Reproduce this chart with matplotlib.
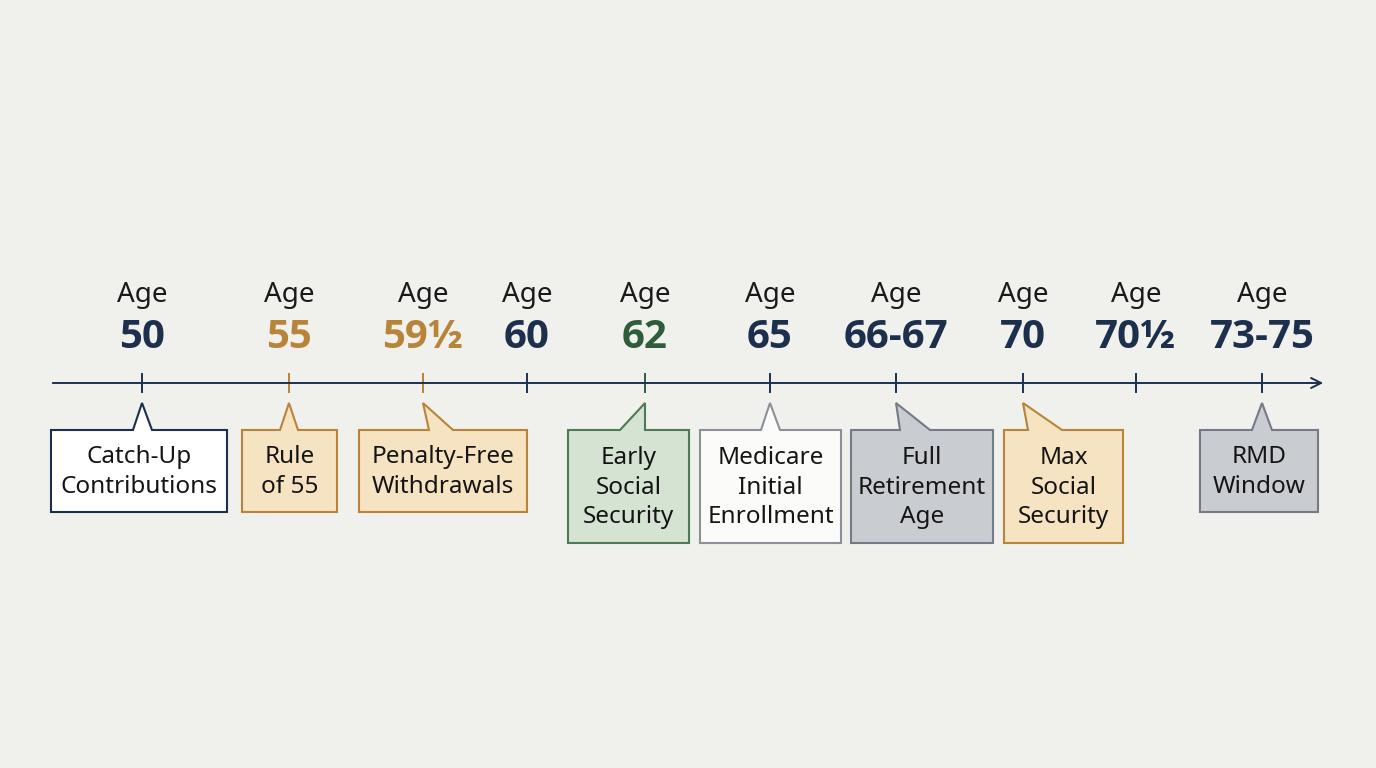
import matplotlib.pyplot as plt
from matplotlib.patches import Polygon

NAVY = '#1c2f4d'
ORANGE = '#b8843a'
GREEN = '#2f5d3a'

ages = ['50', '55', '59½', '60', '62', '65', '66-67', '70', '70½', '73-75']
age_colors = [NAVY, ORANGE, ORANGE, NAVY, GREEN, NAVY, NAVY, NAVY, NAVY, NAVY]
tick_x = [142, 289, 423, 527, 645, 770, 896, 1023, 1136, 1262]

# callouts: text, tick index, box left, box right, box bottom, pointer base (x0, x1), fill, edge
labels = ['Catch-Up\nContributions', 'Rule\nof 55', 'Penalty-Free\nWithdrawals',
          'Early\nSocial\nSecurity', 'Medicare\nInitial\nEnrollment', 'Full\nRetirement\nAge',
          'Max\nSocial\nSecurity', 'RMD\nWindow']
label_tick = [0, 1, 2, 4, 5, 6, 7, 9]
box_left = [51, 242, 359, 568, 700, 851, 1004, 1200]
box_right = [227, 337, 527, 689, 841, 993, 1123, 1318]
box_bottom = [512, 512, 512, 543, 543, 543, 543, 512]
ptr_base = [(133, 152), (280, 298), (429, 453), (620, 645), (761, 780), (900, 930), (1028, 1062), (1252, 1272)]
fills = ['#ffffff', '#f5e3c2', '#f5e3c2', '#d5e3d3', '#fbfbfa', '#c9ccd1', '#f5e3c2', '#c9ccd1']
edges = [NAVY, ORANGE, ORANGE, '#4d7a57', '#8b9099', '#747b86', ORANGE, '#747b86']

fig = plt.figure(figsize=(13.76, 7.68), dpi=100)
fig.patch.set_facecolor('#f0f0ec')
ax = fig.add_axes([0, 0, 1, 1])
ax.set_xlim(0, 1376)
ax.set_ylim(768, 0)
ax.axis('off')

line_y = 383
ax.annotate('', xy=(1326, line_y), xytext=(50, line_y),
            arrowprops=dict(arrowstyle='->', color=NAVY, lw=1.4, mutation_scale=18))

for x, age, c in zip(tick_x, ages, age_colors):
    ax.plot([x, x], [line_y - 9, line_y + 9], color=c, lw=1.4)
    ax.text(x, 295, 'Age', ha='center', va='center', fontsize=20, color='#1a1a1a', family='Noto Sans')
    ax.text(x, 338, age, ha='center', va='center', fontsize=29, color=c,
            fontweight='bold', family=['Open Sans', 'DejaVu Sans'])

top = 430
apex_y = 403
for txt, ti, l, r, b, (p0, p1), fc, ec in zip(labels, label_tick, box_left, box_right,
                                              box_bottom, ptr_base, fills, edges):
    ax_x = tick_x[ti]
    pts = [(l, top), (p0, top), (ax_x, apex_y), (p1, top), (r, top), (r, b), (l, b)]
    ax.add_patch(Polygon(pts, closed=True, facecolor=fc, edgecolor=ec, lw=1.5))
    ax.text((l + r) / 2, (top + b) / 2 + 1, txt, ha='center', va='center', fontsize=17.5,
            color='#151515', linespacing=1.3, family='Noto Sans')

fig.savefig('out.png', dpi=100, facecolor=fig.get_facecolor())
